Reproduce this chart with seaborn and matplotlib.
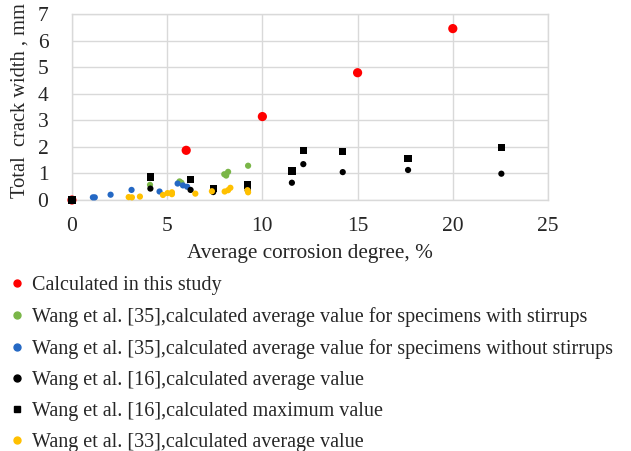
import matplotlib
matplotlib.use("Agg")
import matplotlib.pyplot as plt
from matplotlib.lines import Line2D
import seaborn as sns
import pandas as pd

# Corrosion degree (%) vs total crack width (mm) for each data source
red_x = [0, 6, 10, 15, 20]
red_y = [0, 1.87, 3.14, 4.79, 6.45]

green_x = [4.1, 5.65, 5.75, 8.0, 8.1, 8.2, 9.25]
green_y = [0.57, 0.70, 0.65, 0.97, 0.92, 1.06, 1.29]

blue_x = [1.1, 1.2, 2.03, 3.13, 4.6, 5.55, 5.83, 6.05]
blue_y = [0.1, 0.1, 0.2, 0.38, 0.32, 0.62, 0.55, 0.5]

w16_x = [0, 4.12, 6.23, 7.42, 9.23, 11.55, 12.15, 14.22, 17.65, 22.55]
w16_avg_y = [0, 0.43, 0.38, 0.3, 0.37, 0.65, 1.35, 1.05, 1.13, 0.99]
w16_max_y = [0, 0.87, 0.78, 0.44, 0.57, 1.09, 1.87, 1.82, 1.55, 1.98]

yellow_x = [2.98, 3.15, 3.57, 4.78, 5.02, 5.25, 5.25, 6.48, 7.35, 8.02, 8.2, 8.32, 9.22, 9.25]
yellow_y = [0.11, 0.1, 0.13, 0.19, 0.26, 0.29, 0.22, 0.24, 0.33, 0.32, 0.37, 0.46, 0.37, 0.29]

labels = [
    "Calculated in this study",
    "Wang et al. [35],calculated average value for specimens with stirrups",
    "Wang et al. [35],calculated average value for specimens without stirrups",
    "Wang et al. [16],calculated average value",
    "Wang et al. [16],calculated maximum value",
    "Wang et al. [33],calculated average value",
]
x_ticks = [0, 5, 10, 15, 20, 25]
y_ticks = [0, 1, 2, 3, 4, 5, 6, 7]

sns.set_theme(style="white")
plt.rcParams["font.family"] = ["Liberation Serif", "DejaVu Serif"]

fig = plt.figure(figsize=(6.31, 4.51), dpi=100)
ax = fig.add_axes([0.114, 0.5565, 0.7545, 0.4125])

series = [
    (red_x, red_y, "#ff0000", "o", 44),
    (green_x, green_y, "#7ab648", "o", 20),
    (blue_x, blue_y, "#2468c4", "o", 20),
    (w16_x, w16_avg_y, "#000000", "o", 20),
    (w16_x, w16_max_y, "#000000", "s", 28),
    (yellow_x, yellow_y, "#ffc000", "o", 20),
]
for (xs, ys, col, mk, sz), lab in zip(series, labels):
    df = pd.DataFrame({"x": xs, "y": ys})
    sns.scatterplot(data=df, x="x", y="y", ax=ax, color=col, marker=mk,
                    s=sz, edgecolor="none", linewidth=0, legend=False,
                    zorder=3, clip_on=False)

ax.set_xlim(0, 25)
ax.set_ylim(0, 7)
ax.set_xticks(x_ticks)
ax.set_yticks(y_ticks)
ax.grid(True, color="#d9d9d9", linewidth=1)
for sp in ax.spines.values():
    sp.set_color("#d9d9d9")
    sp.set_linewidth(1)
ax.tick_params(axis="both", length=0, labelsize=15.5)
ax.tick_params(axis="x", pad=12)
ax.tick_params(axis="y", pad=17)
ax.set_xlabel("Average corrosion degree, %", fontsize=15.3, labelpad=6)
ax.set_ylabel("Total  crack width , mm", fontsize=14.8)
ax.yaxis.set_label_coords(-0.088, 0.532)

handles = [
    Line2D([], [], linestyle="none", marker=mk, color=col, markersize=4.5 if mk == "s" else 5)
    for (_, _, col, mk, _) in series
]
fig.legend(handles, labels, loc="upper left", bbox_to_anchor=(0.005, 0.406),
           frameon=False, fontsize=14.5, handlelength=0.6, handletextpad=0.45,
           labelspacing=0.59, borderaxespad=0)

fig.savefig("out.png", dpi=100)
